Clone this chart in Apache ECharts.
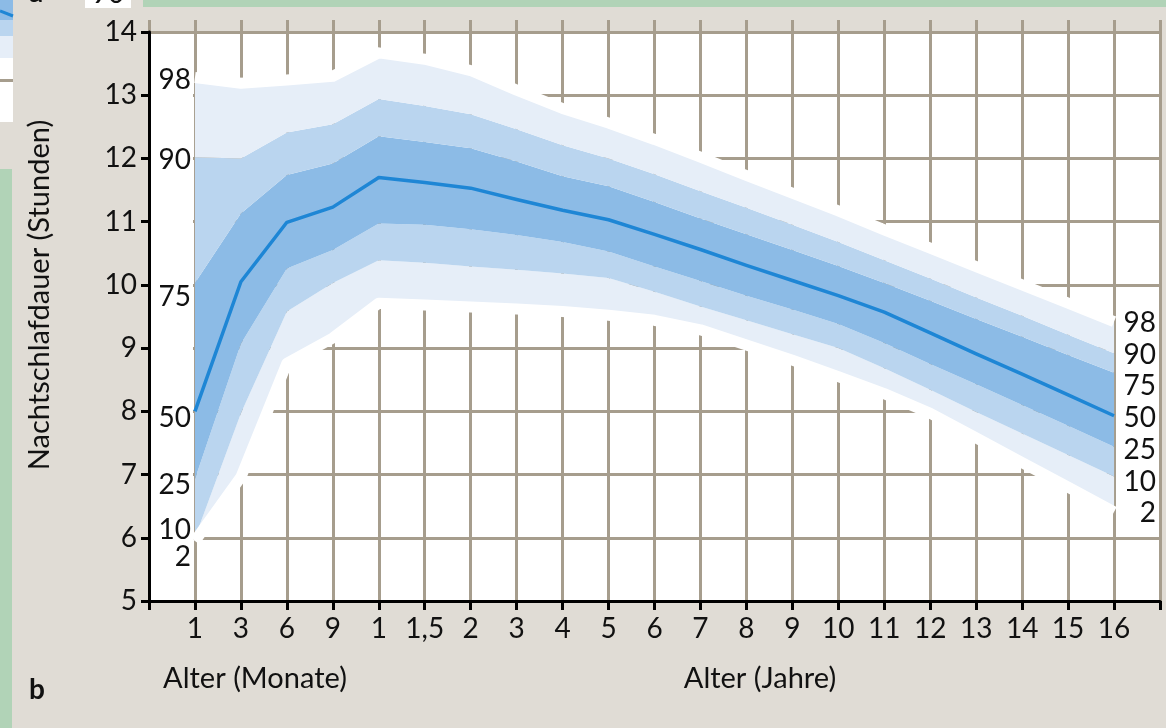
<!DOCTYPE html>
<html>
<head>
<meta charset="utf-8">
<script src="https://cdn.jsdelivr.net/npm/echarts@6/dist/echarts.min.js"></script>
<style>
html,body{margin:0;padding:0;background:#e0dcd5;}
#chart{width:1166px;height:728px;}
</style>
</head>
<body>
<div id="chart"></div>
<script>
// x positions 0..22 (first and last are empty frame positions)
const xLabels = ['', '1', '3', '6', '9', '1', '1,5', '2', '3', '4', '5', '6', '7', '8', '9', '10', '11', '12', '13', '14', '15', '16', ''];
const yTicks = [5, 6, 7, 8, 9, 10, 11, 12, 13, 14];
const pctLabels = ['98', '90', '75', '50', '25', '10', '2'];

// percentile curves (hours), for x positions 1..21
const p2  = [5.95, 6.96, 8.76, 9.16, 9.71, 9.68, 9.65, 9.62, 9.58, 9.52, 9.44, 9.29, 9.05, 8.81, 8.55, 8.28, 7.97, 7.58, 7.19, 6.80, 6.41];
const p10 = [6.00, 7.97, 9.58, 10.03, 10.39, 10.35, 10.29, 10.24, 10.18, 10.11, 9.89, 9.66, 9.44, 9.22, 9.00, 8.68, 8.34, 7.99, 7.65, 7.31, 6.97];
const p25 = [6.93, 9.07, 10.26, 10.55, 10.97, 10.95, 10.88, 10.79, 10.68, 10.53, 10.29, 10.06, 9.83, 9.61, 9.38, 9.08, 8.75, 8.43, 8.10, 7.77, 7.44];
const p50 = [8.00, 10.05, 10.99, 11.23, 11.70, 11.62, 11.53, 11.35, 11.18, 11.03, 10.80, 10.56, 10.31, 10.07, 9.83, 9.57, 9.24, 8.91, 8.59, 8.26, 7.93];
const p75 = [10.03, 11.13, 11.74, 11.92, 12.35, 12.26, 12.16, 11.95, 11.72, 11.56, 11.31, 11.05, 10.80, 10.55, 10.30, 10.03, 9.75, 9.46, 9.18, 8.89, 8.61];
const p90 = [12.02, 12.00, 12.41, 12.54, 12.94, 12.83, 12.70, 12.46, 12.21, 12.00, 11.75, 11.48, 11.22, 10.95, 10.68, 10.39, 10.10, 9.80, 9.51, 9.21, 8.92];
const p98 = [13.28, 13.19, 13.24, 13.30, 13.67, 13.57, 13.39, 13.08, 12.79, 12.56, 12.30, 12.02, 11.73, 11.45, 11.17, 10.87, 10.58, 10.29, 10.00, 9.71, 9.42];

(function () {
const FONT = 'Lato, "Open Sans", sans-serif';
const GRID = '#a69d8d';
const C_LIGHT = '#e6eef8', C_MED = '#bad5ef', C_DARK = '#8cbbe6', C_LINE = '#1e86d5';

// pad with empty frame positions at both ends
const pad = arr => [null, ...arr, null];
const diff = (a, b) => pad(a.map((v, i) => +(v - b[i]).toFixed(4)));

const chart = echarts.init(document.getElementById('chart'), null, {renderer: 'canvas'});

function bandSeries(name, data, color) {
  return {
    name, type: 'line', stack: 'band', data, symbol: 'none',
    lineStyle: {width: 0, opacity: 0}, areaStyle: {color, opacity: 1},
    emphasis: {disabled: true}, silent: true
  };
}

const gLeft = 149, gRight = 6, gTop = 32, gBottom = 127;
const cats = xLabels.map((l, i) => String(i));

const option = {
  backgroundColor: '#e0dcd5',
  animation: false,
  grid: [
    {left: gLeft, right: gRight, top: gTop, bottom: gBottom, show: true, backgroundColor: '#ffffff', borderWidth: 0},
    {left: gLeft, right: gRight, top: 20, height: 12, show: false}
  ],
  xAxis: [
    {
      type: 'category', gridIndex: 0, data: cats, boundaryGap: false,
      axisLine: {show: true, lineStyle: {color: '#000', width: 3}},
      axisTick: {show: true, length: 9, interval: 0, lineStyle: {color: '#000', width: 3}},
      axisLabel: {interval: 0, formatter: (v, i) => xLabels[i] || '', color: '#111', fontSize: 28, fontFamily: FONT, margin: 14},
      splitLine: {show: true, interval: 0, lineStyle: {color: GRID, width: 3}}
    },
    {
      type: 'category', gridIndex: 1, data: cats, boundaryGap: false,
      axisLine: {show: false}, axisTick: {show: false}, axisLabel: {show: false},
      splitLine: {show: true, interval: 0, lineStyle: {color: GRID, width: 3}}
    }
  ],
  yAxis: [
    {
      type: 'value', gridIndex: 0, min: 5, max: 14, interval: 1,
      axisLine: {show: true, lineStyle: {color: '#000', width: 3}},
      axisTick: {show: true, length: 8, lineStyle: {color: '#000', width: 3}},
      axisLabel: {color: '#111', fontSize: 28, fontFamily: FONT, margin: 12,
        formatter: v => yTicks.includes(v) ? String(v) : ''},
      splitLine: {show: true, lineStyle: {color: GRID, width: 3}}
    },
    {type: 'value', gridIndex: 1, min: 0, max: 1, show: false, splitLine: {show: false}}
  ],
  series: [
    {type: 'line', data: pad(p98), symbol: 'none', silent: true,
     lineStyle: {color: '#ffffff', width: 11, join: 'round', cap: 'butt'}},
    {type: 'line', data: pad(p2), symbol: 'none', silent: true,
     lineStyle: {color: '#ffffff', width: 11, join: 'round', cap: 'butt'}},
    {name: 'p2', type: 'line', stack: 'band', data: pad(p2), symbol: 'none',
     lineStyle: {width: 0, opacity: 0}, silent: true},
    bandSeries('2-10', diff(p10, p2), C_LIGHT),
    bandSeries('10-25', diff(p25, p10), C_MED),
    bandSeries('25-75', diff(p75, p25), C_DARK),
    bandSeries('75-90', diff(p90, p75), C_MED),
    bandSeries('90-98', diff(p98, p90), C_LIGHT),
    {name: 'Median', type: 'line', data: pad(p50), symbol: 'none', silent: true,
     lineStyle: {color: C_LINE, width: 3.5, join: 'round'}}
  ],
  graphic: [
    {type: 'rect', shape: {x: 143, y: 0, width: 1023, height: 7}, style: {fill: '#b1d3b7'}, z: 50},
    {type: 'rect', shape: {x: 0, y: 169, width: 12, height: 559}, style: {fill: '#b1d3b7'}, z: 50},
    {type: 'rect', shape: {x: 0, y: 0, width: 13, height: 122}, style: {fill: '#ffffff'}, z: 50},
    {type: 'rect', shape: {x: 0, y: 0, width: 13, height: 58}, style: {fill: '#e6eef8'}, z: 51},
    {type: 'rect', shape: {x: 0, y: 0, width: 13, height: 36}, style: {fill: '#bad5ef'}, z: 52},
    {type: 'rect', shape: {x: 0, y: 0, width: 13, height: 20}, style: {fill: '#8cbbe6'}, z: 53},
    {type: 'line', shape: {x1: 0, y1: 11, x2: 13, y2: 16}, style: {stroke: '#1e86d5', lineWidth: 3}, z: 54},
    {type: 'rect', shape: {x: 0, y: 79, width: 13, height: 3}, style: {fill: GRID}, z: 54},
    {type: 'rect', shape: {x: 85, y: 0, width: 46, height: 8}, style: {fill: '#ffffff'}, z: 50},
    {type: 'text', x: 108, y: 8, style: {text: '90', fill: '#111', font: '28px ' + FONT, textAlign: 'center', textVerticalAlign: 'bottom'}, z: 55},
    {type: 'text', x: 36, y: 7, style: {text: 'a', fill: '#111', font: 'bold 28px ' + FONT, textAlign: 'center', textVerticalAlign: 'bottom'}, z: 55},
    {type: 'rect', shape: {x: 151, y: 34, width: 42, height: 566}, style: {fill: '#ffffff'}, z: 60},
    {type: 'rect', shape: {x: 1116, y: 313, width: 43, height: 221}, style: {fill: '#ffffff'}, z: 60},
    ...[['98', 80], ['90', 160], ['75', 297], ['50', 418], ['25', 485], ['10', 530], ['2', 557]].map(([t, y]) => ({
      type: 'text', x: 191, y, z: 70,
      style: {text: t, fill: '#111', font: '28px ' + FONT, textAlign: 'right', textVerticalAlign: 'middle'}
    })),
    ...pctLabels.map((t, i) => ({
      type: 'text', x: 1156, y: 323 + i * 31.7, z: 70,
      style: {text: t, fill: '#111', font: '28px ' + FONT, textAlign: 'right', textVerticalAlign: 'middle'}
    })),
    {type: 'text', x: 40, y: 295, rotation: Math.PI / 2, z: 70,
     style: {text: 'Nachtschlafdauer (Stunden)', fill: '#111', font: '29px ' + FONT, textAlign: 'center', textVerticalAlign: 'middle'}},
    {type: 'text', x: 255, y: 679, z: 70,
     style: {text: 'Alter (Monate)', fill: '#111', font: '29px ' + FONT, textAlign: 'center', textVerticalAlign: 'middle'}},
    {type: 'text', x: 760, y: 679, z: 70,
     style: {text: 'Alter (Jahre)', fill: '#111', font: '29px ' + FONT, textAlign: 'center', textVerticalAlign: 'middle'}},
    {type: 'text', x: 37, y: 690, z: 70,
     style: {text: 'b', fill: '#111', font: 'bold 28px ' + FONT, textAlign: 'center', textVerticalAlign: 'middle'}}
  ]
};
chart.setOption(option);
})();
</script>
</body>
</html>
